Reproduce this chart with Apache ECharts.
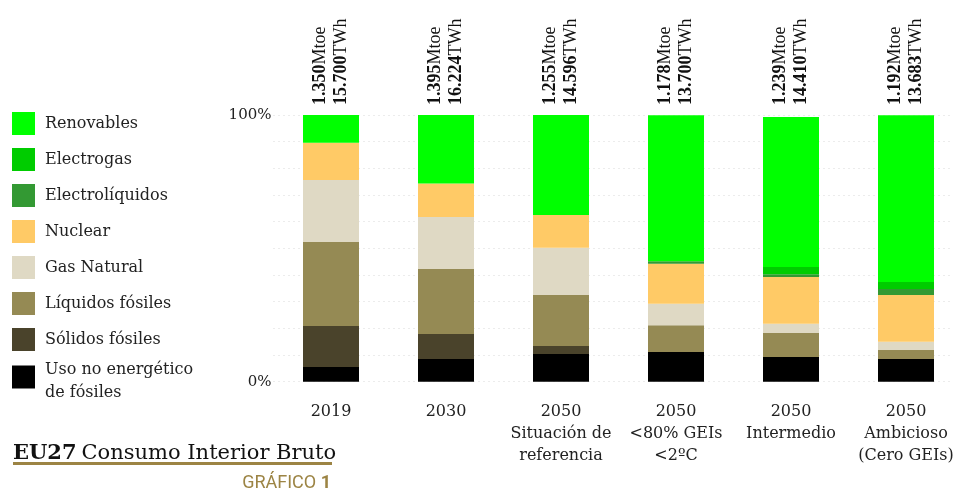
<!DOCTYPE html>
<html><head><meta charset="utf-8">
<script src="https://cdn.jsdelivr.net/npm/echarts@6/dist/echarts.min.js"></script>
<style>html,body{margin:0;padding:0;background:#fff}#c{width:953px;height:491px}</style>
</head><body><div id="c"></div>
<script>
var categories = ['2019', '2030', '2050\nSituación de\nreferencia', '2050\n<80% GEIs\n<2ºC', '2050\nIntermedio', '2050\nAmbicioso\n(Cero GEIs)'];
var mtoe = ['1.350', '1.395', '1.255', '1.178', '1.239', '1.192'];
var twh = ['15.700', '16.224', '14.596', '13.700', '14.410', '13.683'];

var usoNoEnergetico = [5.5, 8.5, 10.4, 11.1, 9.25, 8.5];
var solidosFosiles = [15.4, 9.4, 3.0, 0, 0, 0];
var liquidosFosiles = [31.5, 24.4, 19.1, 10.1, 9.0, 3.4];
var gasNatural = [23.25, 19.5, 17.75, 8.0, 3.5, 3.1];
var nuclear = [13.9, 12.5, 12.25, 15.0, 17.5, 17.5];
var electroliquidos = [0, 0, 0, 1.0, 1.0, 2.25];
var electrogas = [0, 0, 0, 0, 2.75, 2.6];
var renovables = [10.45, 25.7, 37.5, 54.75, 56.25, 62.6];

var seriesNames = ['Uso no energético de fósiles', 'Sólidos fósiles', 'Líquidos fósiles', 'Gas Natural', 'Nuclear', 'Electrolíquidos', 'Electrogas', 'Renovables'];
var seriesData = [usoNoEnergetico, solidosFosiles, liquidosFosiles, gasNatural, nuclear, electroliquidos, electrogas, renovables];
var seriesColors = ['#000000', '#4a432b', '#958a54', '#dfd9c4', '#ffca66', '#339933', '#00cc00', '#00ff00'];

var topLabels = mtoe.map(function (m, i) { return '{b|' + m + '}{r|Mtoe}\n{b|' + twh[i] + '}{r|TWh}'; });

var serif = 'DejaVu Serif';
var gold = '#9c8444';

var chart = echarts.init(document.getElementById('c'), null, {renderer: 'canvas'});
chart.setOption({
  animation: false,
  backgroundColor: '#fff',
  grid: {left: 273.5, width: 690, top: 115, bottom: 109.3, containLabel: false, outerBoundsMode: 'none'},
  legend: [{
    orient: 'vertical', left: 7, top: 107, itemWidth: 23, itemHeight: 23, itemGap: 13,
    icon: 'rect', selectedMode: false,
    data: ['Renovables', 'Electrogas', 'Electrolíquidos', 'Nuclear', 'Gas Natural', 'Líquidos fósiles', 'Sólidos fósiles'],
    textStyle: {fontFamily: serif, fontSize: 16, color: '#222', padding: [0, 0, 0, 5]}
  }, {
    orient: 'vertical', left: 7, top: 348.5, itemWidth: 23, itemHeight: 23,
    icon: 'rect', selectedMode: false,
    data: ['Uso no energético de fósiles'],
    formatter: function () { return '{s| }\n{a|Uso no energético}\n{a|de fósiles}'; },
    textStyle: {
      fontFamily: serif, fontSize: 16, color: '#222', padding: [0, 0, 0, 5],
      rich: {
        s: {fontSize: 1, lineHeight: 8},
        a: {fontFamily: serif, fontSize: 16, color: '#222', lineHeight: 23}
      }
    }
  }],
  xAxis: [{
    type: 'category', data: categories, position: 'bottom',
    axisLine: {show: false}, axisTick: {show: false},
    axisLabel: {fontFamily: serif, fontSize: 16, color: '#222', lineHeight: 22, margin: 19, interval: 0}
  }, {
    type: 'category', data: topLabels, position: 'top',
    axisLine: {show: false}, axisTick: {show: false},
    axisLabel: {
      rotate: -90, margin: 10, interval: 0,
      rich: {
        b: {fontFamily: 'Liberation Serif', fontWeight: 'bold', fontSize: 18, color: '#111', lineHeight: 21},
        r: {fontFamily: 'Liberation Serif', fontSize: 18, color: '#111', lineHeight: 21}
      }
    }
  }],
  yAxis: {
    type: 'value', min: 0, max: 100, interval: 10,
    axisLine: {show: false}, axisTick: {show: false},
    splitLine: {show: true, lineStyle: {color: '#d8d8d8', type: [1, 4], width: 1}},
    axisLabel: {
      fontFamily: serif, fontSize: 15, color: '#222', margin: 2,
      formatter: function (v) { return v === 0 ? '0%' : (v === 100 ? '100%' : ''); }
    }
  },
  series: seriesNames.map(function (n, k) { return {
    name: n, type: 'bar', stack: 'total', barWidth: 56,
    itemStyle: {color: seriesColors[k]},
    data: seriesData[k]
  }; }),
  title: {
    text: '{b|EU27} {r|Consumo Interior Bruto}', left: 13, top: 443,
    textStyle: {rich: {
      b: {fontFamily: serif, fontWeight: 'bold', fontSize: 21, color: '#111'},
      r: {fontFamily: serif, fontWeight: 'normal', fontSize: 21, color: '#111'}
    }},
    padding: 0
  },
  graphic: [
    {type: 'rect', left: 13, top: 462, shape: {width: 319, height: 3}, style: {fill: gold}, silent: true},
    {type: 'text', right: 622, top: 474, style: {
      text: '{n|GRÁFICO }{b|1}',
      rich: {
        n: {fontFamily: 'Roboto', fontSize: 18, fill: gold},
        b: {fontFamily: 'Roboto', fontWeight: 'bold', fontSize: 18, fill: gold}
      }
    }}
  ]
});
</script></body></html>
